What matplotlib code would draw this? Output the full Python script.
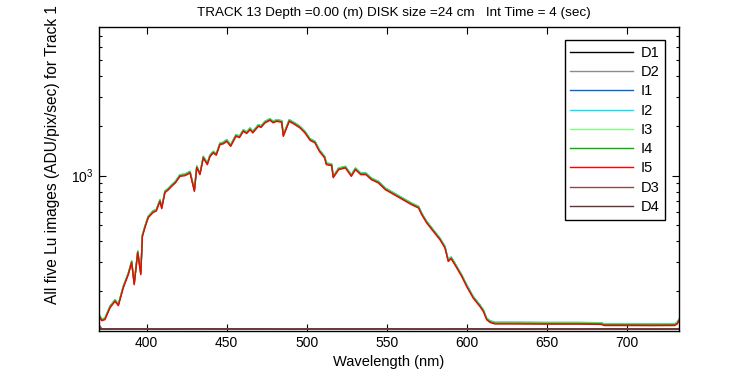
import numpy as np
import matplotlib
matplotlib.use("Agg")
import matplotlib.pyplot as plt
from matplotlib.ticker import LogLocator, NullFormatter

plt.rcParams['font.family'] = ['Liberation Sans', 'DejaVu Sans']

# red (I5) spectrum
wl = [370.4, 371.9, 373.9, 377.1, 380.2, 382.3, 383.9, 385.4, 388.5, 390.6,
      392.2, 394.4, 396.3, 397.3, 398.9, 401.0, 404.1, 406.0, 408.3, 409.4, 411.4,
      413.5, 415.6, 418.0, 420.8, 424.0, 427.1, 429.8, 431.3, 433.3, 435.4, 437.9,
      439.5, 441.6, 443.5, 445.8, 448.0,
      450.0, 452.5, 455.8, 458.0, 460.4, 462.5, 464.6, 466.3, 469.8, 471.5, 473.9,
      477.1, 479.0, 481.3,
      484.4, 485.4, 489.1, 492.7, 495.8, 498.9, 502.1, 505.2, 507.9, 511.2,
      512.3, 515.6, 516.6, 520.0, 524.2, 527.9, 530.5, 533.8, 537.0, 540.4,
      544.8, 549.1, 554.6, 560.1, 565.5, 569.9, 571.9, 575.0, 579.1, 583.3,
      586.4, 588.5, 590.3, 593.8, 596.9, 600.0, 604.1, 608.3, 610.4, 612.5,
      614.6, 617.7, 630.0, 650.0, 670.0, 684.0, 686.0, 700.0, 715.0, 730.0,
      731.5, 732.7]
i5 = [139.8, 132.2, 134.1, 158.5, 173.1, 163.0, 185.6, 209.5, 251.2, 297.0,
      218.5, 341.6, 251.2, 426.9, 484.0, 556.6, 599.3, 610.0, 698.6, 631.0, 788.9,
      820.0, 861.3, 905.0, 990.0, 1000, 1038, 803.0, 1118, 1014, 1280, 1166,
      1300, 1373, 1330, 1541, 1560,
      1614, 1505, 1730, 1700, 1855, 1800, 1900, 1815, 1990, 1960, 2086,
      2164, 2090, 2133,
      2104, 1730, 2133, 2037, 1946, 1815, 1636, 1579, 1404, 1280,
      1166, 1150, 972.0, 1087, 1113, 990.0, 1087, 1014, 1014, 946.0,
      903.0, 823.0, 767.0, 715.0, 667.0, 637.0, 580.0, 517.0, 460.0, 409.0,
      365.0, 302.0, 314.0, 276.0, 245.0, 213.0, 181.0, 161.0, 150.5, 134.0,
      129.0, 126.3, 126.3, 126.0, 126.0, 125.5, 123.6, 123.6, 123.4, 123.6,
      126.0, 132.0]

# other light channels sit a hair above I5
i_names = ['I1', 'I2', 'I3', 'I4', 'I5']
i_gain = [1.024, 1.018, 1.02, 1.012, 1.0]
i_colors = ['#0066dd', '#00e5ff', '#80ff80', '#00b000', '#ff0000']

# dark channels along the floor
wl_dark = [370.4, 372.0, 390.0, 410.0, 430.0, 450.0, 470.0, 490.0, 510.0, 530.0,
           550.0, 570.0, 590.0, 610.0, 630.0, 650.0, 670.0, 690.0, 710.0, 732.7]
d_vals = {
    'D1': [118.0, 117.5, 117.8, 117.4, 117.9, 117.6, 117.8, 117.3, 117.7, 117.5,
           117.9, 117.4, 117.6, 117.8, 117.4, 117.7, 117.5, 117.9, 117.4, 117.6],
    'D2': [118.3, 117.8, 118.1, 117.7, 118.2, 117.9, 118.1, 117.6, 118.0, 117.8,
           118.2, 117.7, 117.9, 118.1, 117.7, 118.0, 117.8, 118.2, 117.7, 117.9],
    'D3': [124.0, 118.0, 117.6, 118.1, 117.7, 118.2, 117.6, 118.0, 117.7, 118.1,
           117.6, 118.0, 117.8, 117.6, 118.1, 117.7, 118.0, 117.6, 118.1, 117.8],
    'D4': [118.6, 117.7, 118.0, 117.6, 118.1, 117.8, 118.0, 117.5, 117.9, 117.7,
           118.1, 117.6, 117.8, 118.0, 117.6, 117.9, 117.7, 118.1, 117.6, 117.8],
}
d_colors = {'D1': '#000000', 'D2': '#8c8c8c', 'D3': '#8a4a4a', 'D4': '#5e3434'}

fig = plt.figure(figsize=(7.5, 3.75), dpi=100)
ax = fig.add_axes([0.1316, 0.1181, 0.7737, 0.8091])

wl_a = np.array(wl)
i5_a = np.array(i5)
for name in ['D1', 'D2']:
    ax.plot(wl_dark, d_vals[name], color=d_colors[name], lw=1, label=name)
for name, g, c in zip(i_names, i_gain, i_colors):
    ax.plot(wl_a, i5_a * g, color=c, lw=1, label=name)
for name in ['D3', 'D4']:
    ax.plot(wl_dark, d_vals[name], color=d_colors[name], lw=1, label=name)

ax.set_yscale('log')
ax.set_xlim(370, 732.7)
ax.set_ylim(115, 7925)
ax.set_xticks([400, 450, 500, 550, 600, 650, 700])
ax.yaxis.set_major_locator(LogLocator(base=10))
ax.yaxis.set_minor_locator(LogLocator(base=10, subs=np.arange(2, 10)))
ax.yaxis.set_minor_formatter(NullFormatter())
ax.tick_params(which='both', direction='in', top=True, right=True, labelsize=10)
ax.tick_params(which='major', length=5, width=0.8)
ax.tick_params(which='minor', length=2.5, width=0.8)
ax.tick_params(axis='x', which='minor', bottom=False, top=False)
for s in ax.spines.values():
    s.set_linewidth(1)

ax.set_xlabel('Wavelength (nm)', fontsize=10.5)
ax.set_ylabel('All five Lu images (ADU/pix/sec) for Track 1', fontsize=11.2)
ax.yaxis.set_label_coords(-0.066, 0.579)
fig.text(0.525, 1 - 13 / 375, 'TRACK 13 Depth =0.00 (m) DISK size =24 cm   Int Time = 4 (sec)',
         ha='center', va='center', fontsize=9.7)

leg = ax.legend(loc='upper right', bbox_to_anchor=(0.976, 0.958), borderaxespad=0,
                fontsize=10.5, handlelength=4.3, labelspacing=0.36, fancybox=False,
                framealpha=1, edgecolor='black', borderpad=0.4, handletextpad=0.5)
leg.get_frame().set_linewidth(1)

fig.savefig('out.png', dpi=100)
